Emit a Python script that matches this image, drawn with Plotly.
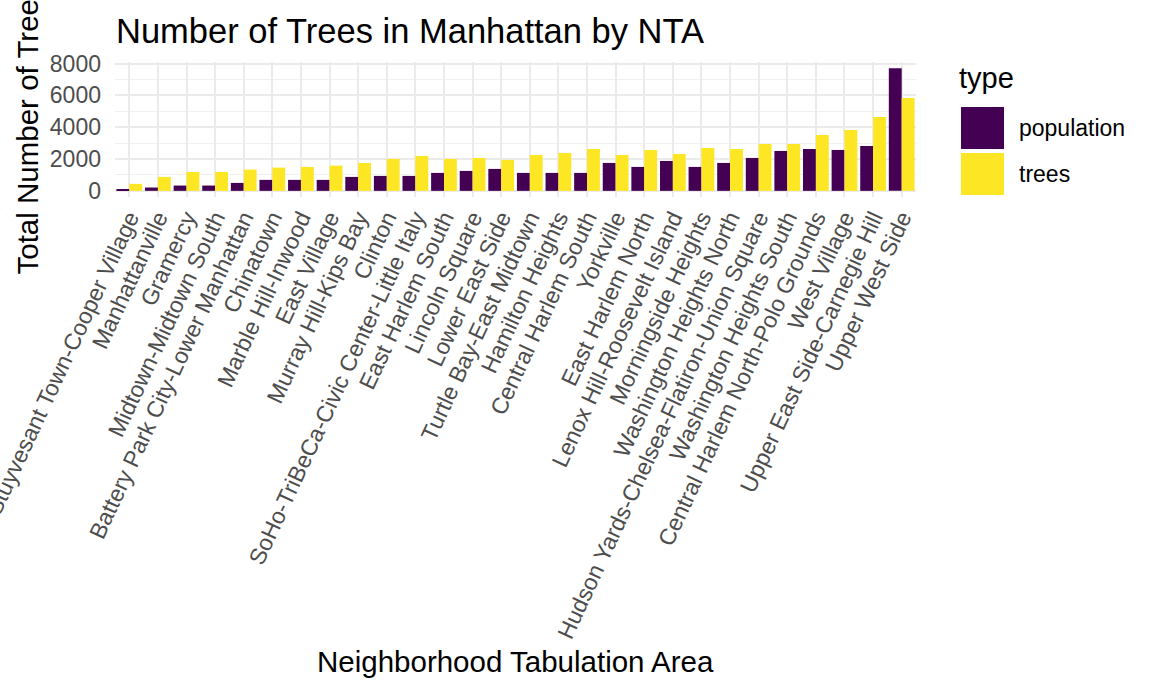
import plotly.graph_objects as go

categories = [
    "Stuyvesant Town-Cooper Village", "Manhattanville", "Gramercy", "Midtown-Midtown South",
    "Battery Park City-Lower Manhattan", "Chinatown", "Marble Hill-Inwood", "East Village",
    "Murray Hill-Kips Bay", "Clinton", "SoHo-TriBeCa-Civic Center-Little Italy", "East Harlem South",
    "Lincoln Square", "Lower East Side", "Turtle Bay-East Midtown", "Hamilton Heights",
    "Central Harlem South", "Yorkville", "East Harlem North", "Lenox Hill-Roosevelt Island",
    "Morningside Heights", "Washington Heights North", "Hudson Yards-Chelsea-Flatiron-Union Square",
    "Washington Heights South", "Central Harlem North-Polo Grounds", "West Village",
    "Upper East Side-Carnegie Hill", "Upper West Side",
]
population = [60, 210, 334, 334, 500, 690, 690, 690, 877, 940, 940, 1129, 1254, 1379, 1129, 1129,
              1129, 1755, 1505, 1880, 1505, 1755, 2069, 2508, 2633, 2571, 2821, 7713]
trees = [440, 877, 1191, 1191, 1337, 1463, 1505, 1588, 1755, 2006, 2195, 2006, 2069, 1944, 2257, 2383,
         2633, 2257, 2571, 2320, 2696, 2633, 2947, 2947, 3511, 3825, 4640, 5831]
y_ticks = [0, 2000, 4000, 6000, 8000]

PURPLE = "#440154"
YELLOW = "#FDE725"
FONT = "Liberation Sans, Arial, sans-serif"

W, H = 1152, 691
L, R, T, B = 115, 236, 62, 494
pw = W - L - R
ph = H - T - B


def px_x(x):
    return (x - L) / pw


def px_y(y):
    return 1 - (y - T) / ph


fig = go.Figure()
fig.add_trace(go.Bar(x=categories, y=population, name="population", marker=dict(color=PURPLE, line=dict(width=0))))
fig.add_trace(go.Bar(x=categories, y=trees, name="trees", marker=dict(color=YELLOW, line=dict(width=0))))

ymax = max(max(population), max(trees))
fig.update_layout(
    width=W, height=H,
    margin=dict(l=L, r=R, t=T, b=B, autoexpand=False),
    barmode="group", bargap=0.1, bargroupgap=0,
    plot_bgcolor="white", paper_bgcolor="white",
    showlegend=False,
    font=dict(family=FONT, color="#000000"),
    title=dict(text="Number of Trees in Manhattan by NTA", x=116 / W, xanchor="left",
               y=1 - 31 / H, yanchor="middle", font=dict(size=34.5, color="black")),
)
fig.update_xaxes(
    automargin=False,
    showgrid=True, gridcolor="#EBEBEB", gridwidth=1.6, zeroline=False, showline=False,
    tickangle=-65, tickfont=dict(size=23, color="#4D4D4D"), ticks="", ticklabelstandoff=2,
)
fig.update_yaxes(
    automargin=False,
    range=[-0.05 * ymax, 1.05 * ymax], tickvals=y_ticks,
    showgrid=True, gridcolor="#EBEBEB", gridwidth=1.6, zeroline=False, showline=False,
    minor=dict(dtick=1000, showgrid=True, gridcolor="#F0F0F0", gridwidth=0.9),
    tickfont=dict(size=23, color="#4D4D4D"), ticks="", ticklabelstandoff=13,
)

# axis titles
fig.add_annotation(text="Neighborhood Tabulation Area", xref="paper", yref="paper",
                   x=px_x(515), y=px_y(661), xanchor="center", yanchor="middle",
                   showarrow=False, font=dict(size=29.5, color="black"))
fig.add_annotation(text="Total Number of Trees", xref="paper", yref="paper",
                   x=px_x(27), y=px_y(129.5), xanchor="center", yanchor="middle", textangle=-90,
                   showarrow=False, font=dict(size=29.5, color="black"))

# ggplot-style legend drawn with shapes and text
fig.add_annotation(text="type", xref="paper", yref="paper", x=px_x(957),
                   y=px_y(78), xanchor="left", yanchor="middle",
                   showarrow=False, font=dict(size=29, color="black"))
for i, (lab, col) in enumerate([("population", PURPLE), ("trees", YELLOW)]):
    top = 107 + i * 46
    fig.add_shape(type="rect", xref="paper", yref="paper",
                  x0=px_x(961), x1=px_x(1004), y0=px_y(top + 42), y1=px_y(top),
                  fillcolor=col, line=dict(width=0))
    fig.add_annotation(text=lab, xref="paper", yref="paper", x=px_x(1017),
                       y=px_y(top + 21), xanchor="left", yanchor="middle",
                       showarrow=False, font=dict(size=23, color="black"))

fig.write_html("out.html")
